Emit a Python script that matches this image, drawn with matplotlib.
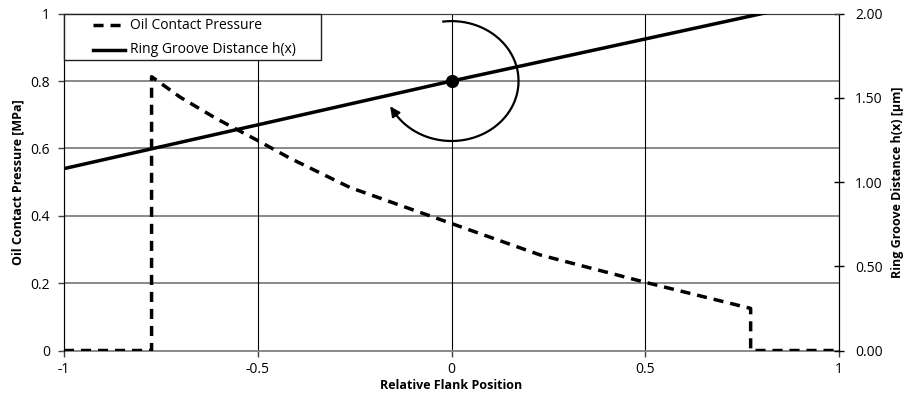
import numpy as np
import matplotlib
matplotlib.use("Agg")
import matplotlib.pyplot as plt
from matplotlib.patches import FancyArrowPatch, Rectangle
from matplotlib.lines import Line2D

plt.rcParams['font.family'] = ['Open Sans', 'DejaVu Sans']

# Data
pressure_x = [-1.0, -0.774, -0.774, -0.70, -0.606, -0.501, -0.417, -0.262, 0.0, 0.228, 0.5, 0.772, 0.772, 1.0]
pressure_y = [0.0, 0.0, 0.813, 0.752, 0.688, 0.624, 0.571, 0.484, 0.377, 0.284, 0.2025, 0.125, 0.0, 0.0]
groove_x = [-1.0, -0.5, 0.0, 0.5, 1.0]
groove_h = [1.08, 1.34, 1.6, 1.85, 2.1]
marker_x, marker_y = 0.0, 0.8

x_ticks = [-1, -0.5, 0, 0.5, 1]
x_ticklabels = ['-1', '-0.5', '0', '0.5', '1']
y_ticks = [0, 0.2, 0.4, 0.6, 0.8, 1.0]
y_ticklabels = ['0', '0.2', '0.4', '0.6', '0.8', '1']
y2_ticks = [0, 0.5, 1.0, 1.5, 2.0]
y2_ticklabels = ['0.00', '0.50', '1.00', '1.50', '2.00']
legend_labels = ['Oil Contact Pressure', 'Ring Groove Distance h(x)']

DASH = (0, (2.9, 2.0))

fig = plt.figure(figsize=(9.08, 3.99), dpi=100)
ax = fig.add_axes([64/908, 1-350.5/399, 775/908, 336.8/399])
ax2 = ax.twinx()

ax.set_xlim(-1, 1)
ax.set_ylim(0, 1)
ax2.set_ylim(0, 2)

# grid
for yv in y_ticks[1:-1]:
    ax.axhline(yv, color='#808080', lw=1.3, zorder=1)
for xv in [-0.5, 0, 0.5]:
    ax.axvline(xv, color='#000000', lw=0.8, zorder=1)

ax.plot(pressure_x, pressure_y, color='black', lw=2.5, ls=DASH, zorder=3)
ax2.plot(groove_x, groove_h, color='black', lw=2.5, zorder=3)
ax.plot([marker_x], [marker_y], 'o', color='black', ms=8.5, zorder=5)

# circular arrow (in axes fraction)
cx, cy = 0.5, 0.8
rx, ry = 0.0865, 0.178
t = np.radians(np.linspace(97, -150, 200))
ax.plot(cx + rx*np.cos(t), cy + ry*np.sin(t), color='black', lw=1.6,
        transform=ax.transAxes, zorder=4, clip_on=False)
ta = np.radians(-150)
tb = np.radians(-153)
arr = FancyArrowPatch((cx + rx*np.cos(ta), cy + ry*np.sin(ta)),
                      (cx + rx*np.cos(tb) - 0.004, cy + ry*np.sin(tb) + 0.012),
                      transform=ax.transAxes, arrowstyle='-|>', mutation_scale=14,
                      color='black', lw=1.6, zorder=4)
ax.add_patch(arr)

ax.set_xticks(x_ticks)
ax.set_xticklabels(x_ticklabels)
ax.set_yticks(y_ticks)
ax.set_yticklabels(y_ticklabels)
ax2.set_yticks(y2_ticks)
ax2.set_yticklabels(y2_ticklabels)

ax.tick_params(axis='both', direction='out', length=4, width=1, labelsize=10, color='#404040', pad=6)
ax.tick_params(axis='x', pad=4)
ax2.tick_params(axis='y', direction='inout', length=7, width=1, labelsize=10, pad=8)

ax.spines['left'].set_color('#404040')
ax.spines['bottom'].set_color('#808080')
ax.spines['bottom'].set_linewidth(1.3)
ax.spines['top'].set_color('#404040')
ax2.spines['top'].set_color('#404040')
ax2.spines['right'].set_color('black')
ax2.spines['bottom'].set_visible(False)

ax.set_xlabel('Relative Flank Position', fontsize=9, fontweight='bold', labelpad=2)
ax.set_ylabel('Oil Contact Pressure [MPa]', fontsize=9, fontweight='bold', labelpad=4)
ax2.set_ylabel('Ring Groove Distance h(x) [µm]', fontsize=9, fontweight='bold', labelpad=6)

# manual legend box (axes fraction)
lw_box = 256.7/775
lh_box = 46/336.8
ax2.add_patch(Rectangle((0, 1-lh_box), lw_box, lh_box, transform=ax2.transAxes,
                        facecolor='white', edgecolor='#202020', lw=1.0, zorder=10, clip_on=False))
rows = [1-(25-13.7)/336.8, 1-(49.5-13.7)/336.8]
styles = [DASH, '-']
for yy, st, lab in zip(rows, styles, legend_labels):
    ax2.add_line(Line2D([29/775, 61/775], [yy, yy], transform=ax2.transAxes,
                        color='black', lw=2.5, ls=st, zorder=11))
    ax2.text(66/775, yy, lab, transform=ax2.transAxes, va='center', ha='left',
             fontsize=10, zorder=11)

fig.savefig('out.png', dpi=100)
